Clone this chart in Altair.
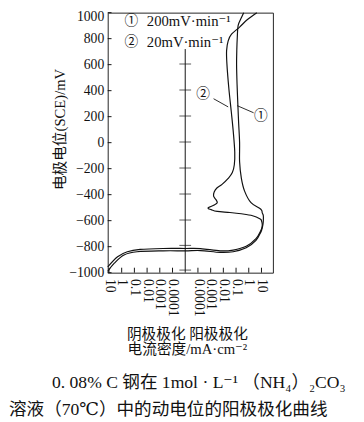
import altair as alt
import numpy as np
import pandas as pd

# ---- data (potential mV vs SCE, current density mA/cm^2; cathodic < 0)
potential_1 = [-990, -927, -864, -839, -832, -832, -830, -844, -839, -809, -751, -688, -662, -630,
               -600, -562, -540, -512, -462, -373, -273, -147, 0, 150, 283, 450, 600, 720, 811, 900,
               960, 1000]
current_1 = [-12.5, -3.8, -0.66, -0.062, -0.00055, 0.00001, 0.00016, 0.0056, 0.059, 0.63, 3.7, 8.9,
             11, 13, 14, 14, 11.5, 8.9, 1.5, 0.47, 0.26, 0.19, 0.19, 0.16, 0.14, 0.12, 0.11, 0.115,
             0.125, 0.145, 0.26, 0.4]

potential_2 = [-955, -877, -839, -821, -814, -814, -815, -832, -826, -797, -738, -676, -650, -625,
               -600, -587, -562, -547, -537, -529, -515, -502, -480, -462, -440, -412, -380, -349,
               -321, -275, -230, -170, -72, 79, 230, 419, 608, 708, 783, 834, 889, 947, 1000]
current_2 = [-12.5, -2.1, -0.36, -0.035, -0.00055, 0.00001, 0.00016, 0.0056, 0.059, 0.63, 3.7, 8.9,
             11, 11.5, 10, 8, 2, 0.26, 0.033, 0.0033, 0.0011, 0.00063, 0.0019, 0.0033, 0.0027,
             0.0017, 0.0019, 0.0031, 0.0079, 0.024, 0.051, 0.073, 0.079, 0.061, 0.043, 0.027,
             0.019, 0.018, 0.024, 0.044, 0.19, 0.79, 4.3]

y_tick_values = [-1000, -800, -600, -400, -200, 0, 200, 400, 600, 800, 1000]
x_tick_positions = [-6, -5, -4, -3, -2, -1, 1, 2, 3, 4, 5, 6]
x_tick_labels = ["10", "1", "0.1", "0.01", "0.001", "0.0001",
                 "0.0001", "0.001", "0.01", "0.1", "1", "10"]
middle_axis_ticks = [605, 405, 205, 5, -195, -395, -595, -790, -980]
middle_axis_top = 720

legend_symbols = ["①", "②"]
legend_texts = ["200mV·min⁻¹", "20mV·min⁻¹"]
legend_potential = [934, 774]

curve_labels = ["②", "①"]
curve_label_pos = [1.40, 5.94]
curve_label_potential = [374, 208]
leader_pos = [2.23, 5.38]
leader_potential = [338, 230]
leader_pos_end = [3.38, 4.08]
leader_potential_end = [275, 285]

y_title = "电极电位(SCE)/mV"
x_title = ["阴极极化 阳极极化", "电流密度/mA·cm⁻²"]
caption_1 = "0. 08% C 钢在 1mol · L⁻¹ （NH₄）₂CO₃"
caption_2 = "溶液（70℃）中的动电位的阳极极化曲线"

# ---- layout constants
LOG_FLOOR = 5          # 1e-5 mA/cm^2 sits on the middle axis
X_DOMAIN = [-6.1, 6.9]
Y_DOMAIN = [-1000, 1000]
W, H = 169, 266
SERIF = "Liberation Serif, DejaVu Serif, Noto Sans CJK SC, serif"


def to_pos(i):
    i = np.asarray(i, dtype=float)
    return np.sign(i) * (np.log10(np.abs(i)) + LOG_FLOOR)


frames = []
for name, e, c in [("1", potential_1, current_1), ("2", potential_2, current_2)]:
    frames.append(pd.DataFrame({"curve": name, "idx": range(len(e)), "E": e, "pos": to_pos(c)}))
curves = pd.concat(frames, ignore_index=True)

full_labels = x_tick_labels[:6] + [""] + x_tick_labels[6:]
label_expr = "[" + ",".join(f"'{t}'" for t in full_labels) + "][round(datum.value) + 6]"

xs = alt.Scale(domain=X_DOMAIN, nice=False, zero=False)
ys = alt.Scale(domain=Y_DOMAIN, nice=False, zero=False)

x_axis = alt.Axis(values=x_tick_positions, labelExpr=label_expr, labelAngle=90, ticks=False,
                  domain=False, grid=False, labelFont=SERIF, labelFontSize=14, labelPadding=6,
                  labelOverlap=False, labelColor="#111", title=x_title, titleFont=SERIF,
                  titleFontSize=15, titleFontWeight="normal", titleLineHeight=16, titleX=81,
                  titleY=55, titleBaseline="top", titleAlign="center", titleColor="#111")
y_axis = alt.Axis(values=y_tick_values, format="d", ticks=False, domain=False, grid=False,
                  labelFont=SERIF, labelFontSize=14, labelPadding=4, labelColor="#111",
                  labelOverlap=False,
                  labelOffset={"condition": {"test": "datum.value == 1000", "value": 4}, "value": 0},
                  title=y_title, titleFont=SERIF, titleFontSize=15, titleFontWeight="normal",
                  titleX=-49, titleY=119, titleAngle=-90, titleAlign="center",
                  titleBaseline="middle", titleColor="#111")


def X(f):
    return alt.X(f, scale=xs, axis=x_axis)


def Y(f):
    return alt.Y(f, scale=ys, axis=y_axis)


lines = alt.Chart(curves).mark_line(color="#111", strokeWidth=1.2, interpolate="cardinal").encode(
    x=X("pos:Q"), y=Y("E:Q"), detail="curve:N", order="idx:Q")

mid_axis = alt.Chart(pd.DataFrame({"pos": [0], "E": [Y_DOMAIN[0]], "E2": [middle_axis_top]})).mark_rule(
    color="#111", strokeWidth=1).encode(x=X("pos:Q"), y=Y("E:Q"), y2="E2:Q")
mid_ticks = alt.Chart(pd.DataFrame({"pos": 0, "E": middle_axis_ticks})).mark_tick(
    orient="horizontal", size=12, thickness=1, color="#111").encode(x=X("pos:Q"), y=Y("E:Q"))

bottom_ticks = alt.Chart(pd.DataFrame({"pos": x_tick_positions, "E": Y_DOMAIN[0],
                                       "E2": Y_DOMAIN[0] + 38})).mark_rule(
    color="#111", strokeWidth=1).encode(x=X("pos:Q"), y=Y("E:Q"), y2="E2:Q")
left_ticks = alt.Chart(pd.DataFrame({"E": y_tick_values, "pos": X_DOMAIN[0],
                                     "pos2": X_DOMAIN[0] + 0.3})).mark_rule(
    color="#111", strokeWidth=1).encode(x=X("pos:Q"), x2="pos2:Q", y=Y("E:Q"))

legend_df = pd.DataFrame({"sym": legend_symbols, "txt": legend_texts, "E": legend_potential,
                          "pos": -4.25, "tpos": -3.02})
legend_sym = alt.Chart(legend_df).mark_text(font=SERIF, fontSize=14, color="#111").encode(
    x=X("pos:Q"), y=Y("E:Q"), text="sym:N")
legend_txt = alt.Chart(legend_df).mark_text(font=SERIF, fontSize=15, align="left",
                                             color="#111").encode(x=X("tpos:Q"), y=Y("E:Q"),
                                                                  text="txt:N")

lab_df = pd.DataFrame({"t": curve_labels, "pos": curve_label_pos, "E": curve_label_potential})
curve_lab = alt.Chart(lab_df).mark_text(font=SERIF, fontSize=14, color="#111").encode(
    x=X("pos:Q"), y=Y("E:Q"), text="t:N")
lead_df = pd.DataFrame({"pos": leader_pos, "E": leader_potential, "pos2": leader_pos_end,
                        "E2": leader_potential_end})
leaders = alt.Chart(lead_df).mark_rule(color="#111", strokeWidth=0.9).encode(
    x=X("pos:Q"), y=Y("E:Q"), x2="pos2:Q", y2="E2:Q")

cap1 = alt.Chart(pd.DataFrame({"t": [caption_1]})).mark_text(
    font=SERIF, fontSize=18, align="left", baseline="middle", color="#111").encode(
    x=alt.value(-57), y=alt.value(379), text="t:N")
cap2 = alt.Chart(pd.DataFrame({"t": [caption_2]})).mark_text(
    font=SERIF, fontSize=18, align="left", baseline="middle", color="#111").encode(
    x=alt.value(-101), y=alt.value(407), text="t:N")

chart = alt.layer(lines, mid_axis, mid_ticks, bottom_ticks, left_ticks, legend_sym, legend_txt,
                  curve_lab, leaders, cap1, cap2).properties(
    width=W, height=H,
    background="white",
    autosize=alt.AutoSizeParams(type="none"),
    padding={"left": 102, "top": 0, "right": 85, "bottom": 148},
).configure_view(stroke="#222", strokeWidth=1).configure_axis(labelOverlap=False)

chart.save("out.html", embed_options={"renderer": "svg", "actions": False})
